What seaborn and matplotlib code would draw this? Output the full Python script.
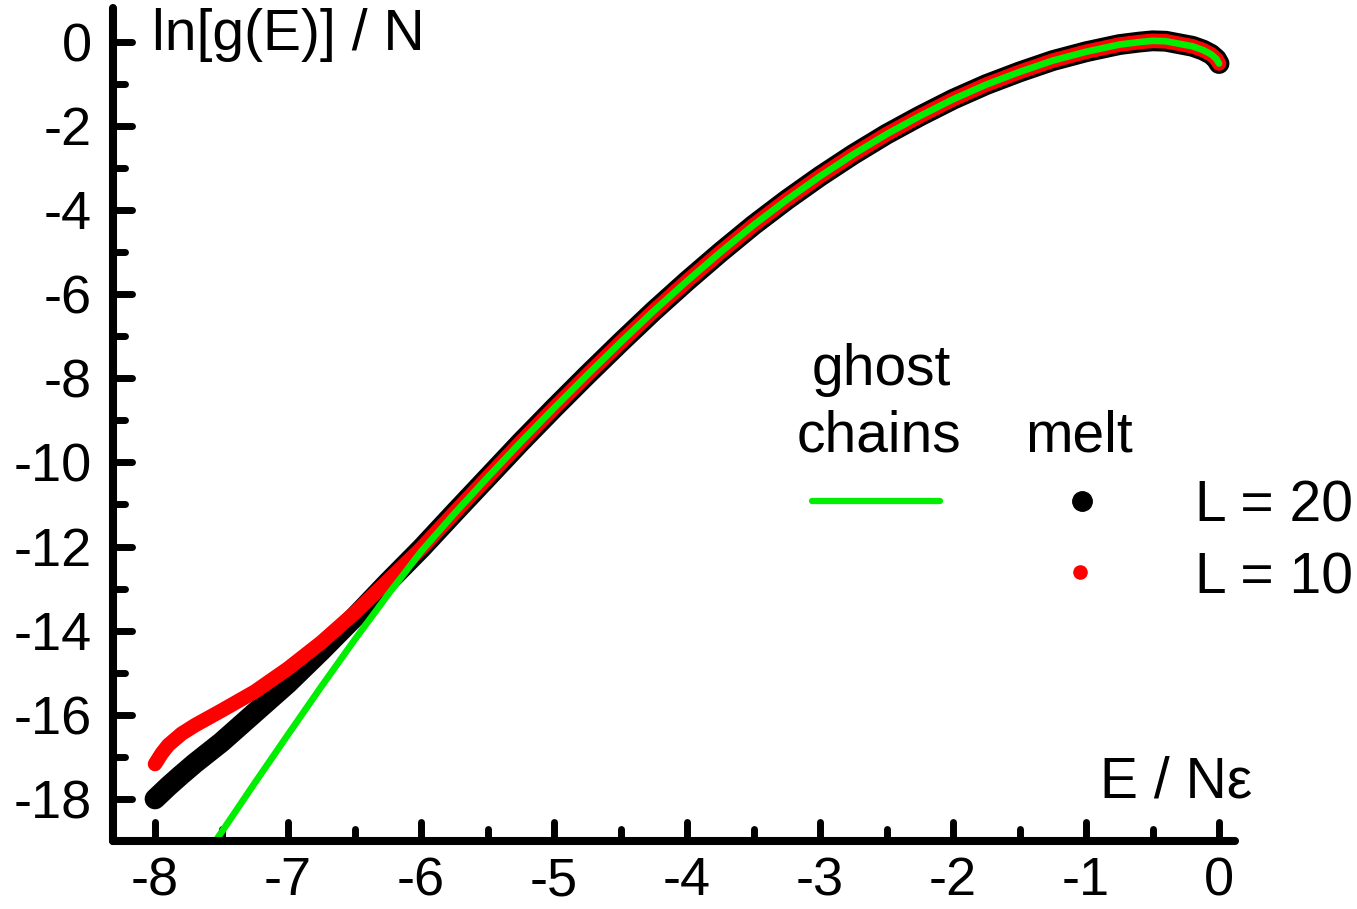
import numpy as np
import pandas as pd
import matplotlib
matplotlib.use("Agg")
import matplotlib.pyplot as plt
from matplotlib.ticker import MultipleLocator
from matplotlib.markers import MarkerStyle
from matplotlib.lines import Line2D
import seaborn as sns

# ---- data: ln g(E) / N versus E / (N epsilon) ----
# ghost chains (single-chain reference)
e_ghost = [-7.60, -7.50, -7.25, -7.00, -6.75, -6.50, -6.25, -6.00, -5.75, -5.50,
           -5.25, -5.00, -4.75, -4.50, -4.25, -4.00, -3.75, -3.50, -3.25, -3.00,
           -2.75, -2.50, -2.25, -2.00, -1.75, -1.50, -1.25, -1.00, -0.75, -0.60,
           -0.50, -0.40, -0.30, -0.20, -0.12, -0.06, -0.02, 0.00]
ln_ghost = [-19.26, -18.79, -17.62, -16.47, -15.33, -14.22, -13.15, -12.12, -11.22, -10.36,
            -9.52, -8.71, -7.92, -7.15, -6.40, -5.69, -5.01, -4.36, -3.76, -3.20,
            -2.68, -2.20, -1.77, -1.37, -1.02, -0.72, -0.45, -0.24, -0.07, -0.01,
            0.02, 0.01, -0.05, -0.11, -0.20, -0.30, -0.41, -0.52]

# melt, chain length L = 20
e_melt20 = [-8.00, -7.90, -7.80, -7.70, -7.50, -7.25, -7.00, -6.75, -6.50, -6.25,
            -6.00, -5.75, -5.50, -5.25, -5.00, -4.75, -4.50, -4.25, -4.00, -3.75,
            -3.50, -3.25, -3.00, -2.75, -2.50, -2.25, -2.00, -1.75, -1.50, -1.25,
            -1.00, -0.75, -0.60, -0.50, -0.40, -0.30, -0.20, -0.12, -0.06, -0.02, 0.00]
ln_melt20 = [-18.00, -17.70, -17.42, -17.15, -16.65, -15.95, -15.25, -14.48, -13.68, -12.85,
             -12.05, -11.20, -10.36, -9.52, -8.71, -7.92, -7.15, -6.40, -5.69, -5.01,
             -4.36, -3.76, -3.20, -2.68, -2.20, -1.77, -1.37, -1.02, -0.72, -0.45,
             -0.24, -0.07, -0.01, 0.02, 0.01, -0.05, -0.11, -0.20, -0.30, -0.41, -0.52]

# melt, chain length L = 10
e_melt10 = [-8.00, -7.95, -7.90, -7.80, -7.70, -7.50, -7.25, -7.00, -6.75, -6.50,
            -6.25, -6.00, -5.75, -5.50, -5.25, -5.00, -4.75, -4.50, -4.25, -4.00,
            -3.75, -3.50, -3.25, -3.00, -2.75, -2.50, -2.25, -2.00, -1.75, -1.50,
            -1.25, -1.00, -0.75, -0.60, -0.50, -0.40, -0.30, -0.20, -0.12, -0.06,
            -0.02, 0.00]
ln_melt10 = [-17.17, -16.92, -16.72, -16.45, -16.25, -15.90, -15.45, -14.90, -14.28, -13.58,
             -12.82, -12.05, -11.20, -10.36, -9.52, -8.71, -7.92, -7.15, -6.40, -5.69,
             -5.01, -4.36, -3.76, -3.20, -2.68, -2.20, -1.77, -1.37, -1.02, -0.72,
             -0.45, -0.24, -0.07, -0.01, 0.02, 0.01, -0.05, -0.11, -0.20, -0.30,
             -0.41, -0.52]

x_ticks = [-8, -7, -6, -5, -4, -3, -2, -1, 0]
y_ticks = [0, -2, -4, -6, -8, -10, -12, -14, -16, -18]

# ---- style ----
sns.set_style("white")
plt.rcParams["font.family"] = ["Liberation Sans", "DejaVu Sans"]
plt.rcParams["axes.unicode_minus"] = False
plt.rcParams["text.color"] = "black"
plt.rcParams["xtick.color"] = "black"
plt.rcParams["ytick.color"] = "black"

W, H = 1357, 909
fig = plt.figure(figsize=(W / 100, H / 100), dpi=100)
ax = fig.add_axes([113 / W, 68 / H, 1122 / W, 833 / H])

df20 = pd.DataFrame({"E": e_melt20, "lng": ln_melt20})
df10 = pd.DataFrame({"E": e_melt10, "lng": ln_melt10})
dfg = pd.DataFrame({"E": e_ghost, "lng": ln_ghost})

line_kw = dict(sort=False, estimator=None, solid_capstyle="round",
               solid_joinstyle="round", legend=False)
sns.lineplot(data=df20, x="E", y="lng", color="black", linewidth=15, ax=ax, **line_kw)
sns.lineplot(data=df10, x="E", y="lng", color="#ff0000", linewidth=10.5, ax=ax, **line_kw)
sns.lineplot(data=dfg, x="E", y="lng", color="#00ee00", linewidth=4.8, ax=ax, **line_kw)

ax.set_xlim(-8.316, 0.12)
ax.set_ylim(-19.0, 0.8)
ax.set_xlabel("")
ax.set_ylabel("")

# axes frame: only left and bottom, thick with round ends
for side in ("top", "right"):
    ax.spines[side].set_visible(False)
for side in ("left", "bottom"):
    ax.spines[side].set_linewidth(5.8)
    ax.spines[side].set_color("black")
    ax.spines[side].set_capstyle("round")

ax.xaxis.set_minor_locator(MultipleLocator(0.5))
ax.yaxis.set_minor_locator(MultipleLocator(1))
ax.set_xticks(x_ticks)
ax.set_yticks(y_ticks)
ax.set_xticklabels([str(v) for v in x_ticks])
ax.set_yticklabels([str(v) for v in y_ticks])

ax.tick_params(which="both", direction="in", width=5, color="black",
               bottom=True, left=True, top=False, right=False,
               labelsize=39, labelcolor="black")
ax.tick_params(axis="x", pad=11)
ax.tick_params(axis="y", pad=15)
ax.tick_params(which="major", length=13.5)
ax.tick_params(which="minor", length=8.5)

for axis in (ax.xaxis, ax.yaxis):
    for minor in (False, True):
        for tl in axis.get_ticklines(minor=minor):
            tl.set_marker(MarkerStyle(tl.get_marker(), capstyle="round"))

def fx(px):
    return px / W

def fy(py):
    return 1 - py / H

# axis titles inside the frame
fig.text(fx(152), fy(50), "ln[g(E)] / N", fontsize=41, ha="left", va="baseline")
fig.text(fx(1100), fy(798), "E / N\u03b5", fontsize=41, ha="left", va="baseline")

# key
fs = 41
fig.text(fx(812), fy(385), "ghost", fontsize=fs, ha="left", va="baseline")
fig.text(fx(797), fy(452), "chains", fontsize=fs, ha="left", va="baseline")
fig.text(fx(1025), fy(452), "melt", fontsize=fs, ha="left", va="baseline")
fig.text(fx(1195), fy(522), "L = 20", fontsize=fs, ha="left", va="baseline")
fig.text(fx(1195), fy(593), "L = 10", fontsize=fs, ha="left", va="baseline")
fig.add_artist(Line2D([fx(812), fx(940)], [fy(501), fy(501)], transform=fig.transFigure,
                      color="#00ee00", linewidth=4.5, solid_capstyle="round"))
fig.add_artist(Line2D([fx(1082)], [fy(501)], transform=fig.transFigure, marker="o",
                      markersize=14, color="black", linestyle="none"))
fig.add_artist(Line2D([fx(1080)], [fy(572)], transform=fig.transFigure, marker="o",
                      markersize=9.5, color="#ff0000", linestyle="none"))

fig.savefig("out.png", dpi=100, facecolor="white")
